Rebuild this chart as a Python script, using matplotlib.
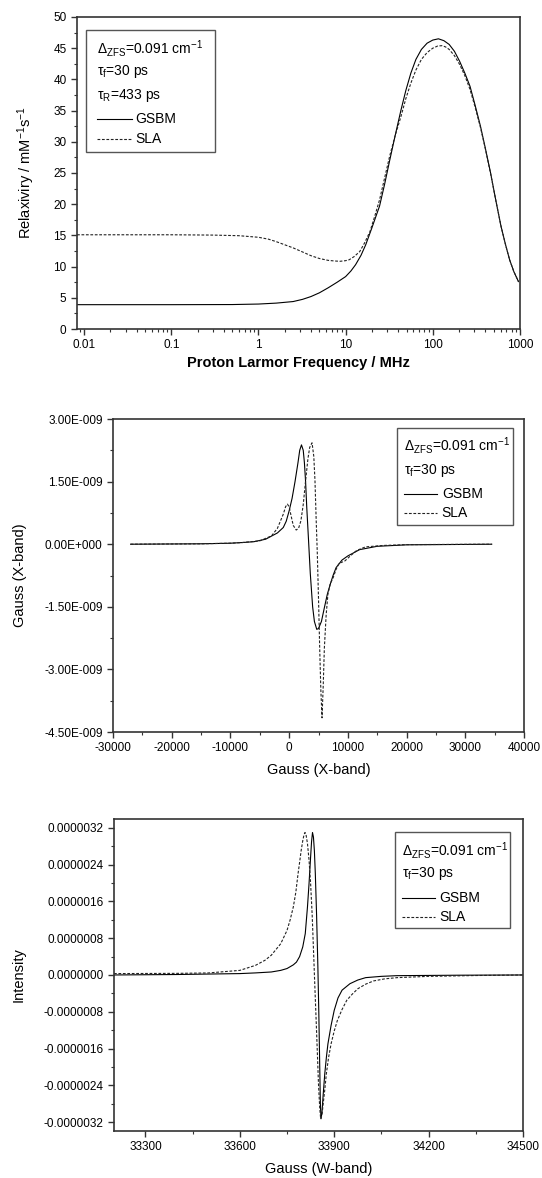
import matplotlib
matplotlib.use("Agg")
import matplotlib.pyplot as plt
from matplotlib.ticker import MultipleLocator, FixedLocator, FuncFormatter, LogLocator, NullFormatter
from matplotlib.patches import Rectangle

plt.rcParams['font.family'] = ['Liberation Sans', 'DejaVu Sans']
plt.rcParams['mathtext.default'] = 'regular'
plt.rcParams['axes.unicode_minus'] = False

# ---- NMRD profile (top) ----
freq_gsbm = [0.0083, 0.1, 0.5, 1.0, 1.6, 2.5, 3.2, 4.0, 5.0, 6.3, 8.0, 10, 11.5, 13, 15, 17, 20,
             24.5, 28, 32, 37, 43, 49, 56, 64, 74, 86, 100, 116, 134, 154, 177, 203, 233, 267,
             305, 352, 400, 460, 530, 605, 680, 760, 850, 960]
r1_gsbm = [3.9, 3.9, 3.92, 4.0, 4.15, 4.4, 4.75, 5.2, 5.8, 6.6, 7.5, 8.4, 9.3, 10.3, 11.8, 13.5, 16.2,
           19.7, 23.2, 27.0, 31.0, 35.0, 38.2, 41.0, 43.2, 44.8, 45.8, 46.3, 46.5, 46.2, 45.6, 44.5,
           42.9, 41.0, 38.9, 35.9, 32.5, 29.0, 25.0, 20.5, 16.5, 13.6, 11.1, 9.2, 7.6]
freq_sla = [0.0083, 0.1, 0.3, 0.6, 1.0, 1.3, 1.6, 2.0, 2.5, 3.2, 4.0, 5.0, 6.3, 7.5, 8.6, 10, 11,
            12.5, 14.5, 16.5, 19, 21.5, 24.5, 28, 32, 37, 43, 49, 56, 64, 74, 86, 100, 114, 128,
            140, 154, 177, 203, 233, 267, 305, 352, 400, 460, 530, 605, 680, 760, 850, 960]
r1_sla = [15.1, 15.1, 15.05, 14.95, 14.7, 14.4, 14.0, 13.5, 13.0, 12.35, 11.75, 11.3, 11.0, 10.9,
          10.85, 10.95, 11.1, 11.6, 12.4, 13.8, 15.6, 18.0, 20.7, 24.2, 27.7, 31.0, 34.0, 36.9,
          39.4, 41.5, 43.2, 44.3, 45.0, 45.35, 45.4, 45.2, 44.8, 43.8, 42.4, 40.6, 38.4, 35.6,
          32.3, 28.9, 24.9, 20.5, 16.5, 13.6, 11.1, 9.2, 7.6]

# ---- X-band EPR (middle), intensity in 1e-9 ----
bx_gsbm = [-27000, -15000, -10000, -8000, -6000, -4000, -2000, -1000, -500, 0, 500, 1000, 1500,
           1800, 2100, 2400, 2600, 2800, 3000, 3300, 3600, 4000, 4300, 4700, 5000, 5500, 6000,
           6500, 7000, 7500, 8000, 9000, 10000, 12000, 15000, 20000, 34500]
ix_gsbm = [0.0, 0.01, 0.024, 0.04, 0.06, 0.12, 0.27, 0.4, 0.55, 0.8, 1.1, 1.5, 1.95,
           2.25, 2.38, 2.25, 1.95, 1.5, 0.88, 0.1, -0.7, -1.5, -1.85, -2.04, -2.02, -1.85, -1.52,
           -1.2, -0.96, -0.74, -0.56, -0.38, -0.28, -0.13, -0.05, -0.015, 0.0]
bx_sla = [-27000, -15000, -10000, -8000, -5000, -3000, -2000, -1500, -1000, -600, -300, 0, 300,
          700, 1200, 1600, 2000, 2400, 2800, 3200, 3500, 3900, 4200, 4400, 4600, 4800, 5000,
          5200, 5400, 5600, 5800, 6000, 6300, 6600, 7000, 7500, 8000, 8500, 9500, 10500, 11500,
          13000, 16000, 20000, 34500]
ix_sla = [0.0, 0.01, 0.024, 0.04, 0.08, 0.2, 0.38, 0.55, 0.72, 0.9, 0.96, 0.9, 0.7,
          0.45, 0.34, 0.38, 0.56, 0.95, 1.52, 2.05, 2.32, 2.43, 2.1, 1.52, 0.6, -0.24, -1.3,
          -2.48, -3.5, -4.16, -3.4, -2.48, -1.7, -1.2, -0.95, -0.8, -0.6, -0.46, -0.4, -0.27, -0.15,
          -0.064, -0.03, -0.01, 0.0]

# ---- W-band EPR (bottom), intensity in 1e-6 ----
bw_gsbm = [33200, 33400, 33600, 33650, 33700, 33730, 33750, 33770, 33780, 33790, 33800, 33808,
           33815, 33820, 33825, 33828, 33831, 33834, 33837, 33840, 33844, 33848, 33851, 33854,
           33856, 33858, 33861, 33865, 33870, 33875, 33880, 33890, 33900, 33912, 33925, 33950,
           33975, 34000, 34050, 34100, 34300, 34500]
iw_gsbm = [0.0, 0.01, 0.03, 0.045, 0.065, 0.1, 0.14, 0.22, 0.28, 0.4, 0.61, 0.9,
           1.48, 1.99, 2.57, 2.9, 3.1, 3.0, 2.7, 2.2, 1.3, 0.2, -0.8, -2.0,
           -2.8, -3.13, -3.0, -2.6, -2.15, -1.8, -1.5, -1.1, -0.77, -0.5, -0.33, -0.19,
           -0.11, -0.058, -0.03, -0.015, -0.005, 0.0]
bw_sla = [33200, 33400, 33500, 33600, 33650, 33680, 33700, 33730, 33750, 33760, 33770, 33778,
          33785, 33790, 33795, 33800, 33804, 33807, 33810, 33815, 33820, 33825, 33830, 33835,
          33839, 33843, 33847, 33850, 33854, 33857, 33861, 33865, 33870, 33875, 33882, 33890,
          33900, 33910, 33925, 33940, 33957, 33975, 34000, 34025, 34060, 34100, 34200, 34350,
          34500]
iw_sla = [0.03, 0.035, 0.044, 0.1, 0.21, 0.32, 0.43, 0.68, 0.97, 1.2, 1.48, 1.8,
          2.2, 2.45, 2.71, 2.92, 3.05, 3.1, 3.07, 2.86, 2.5, 1.99, 1.3, 0.39,
          -0.35, -1.06, -1.8, -2.37, -2.9, -3.13, -3.05, -2.8, -2.5, -2.15, -1.8, -1.5,
          -1.22, -0.99, -0.75, -0.55, -0.42, -0.3, -0.2, -0.13, -0.085, -0.058, -0.03, -0.012,
          0.0]

legend_common = ['Δ$_{ZFS}$=0.091 cm$^{-1}$', 'τ$_f$=30 ps']

fig = plt.figure(figsize=(5.42, 11.78), dpi=100)

SOLID = dict(color='black', lw=0.8)
DASH = dict(color='#222222', lw=0.8, dashes=(2.5, 1.5))


def style(ax):
    for s in ax.spines.values():
        s.set_linewidth(1.2)
        s.set_color('#333333')
    ax.tick_params(which='both', direction='out', top=False, right=False, labelsize=8.5,
                   color='#333333')
    ax.tick_params(which='major', length=4, width=1)
    ax.tick_params(which='minor', length=2.5, width=0.8)


def legend_box(ax, box, rows, textx, liney, linex, textx2):
    x0, x1, y0, y1 = box
    ax.add_patch(Rectangle((x0, y0), x1 - x0, y1 - y0, transform=ax.transAxes,
                           fill=False, ec='#555555', lw=1.0, zorder=5))
    n = len(rows)
    for t, y in zip(rows, liney[:n]):
        ax.text(textx, y, t, transform=ax.transAxes, fontsize=10, va='center', ha='left')
    ys = liney[n:]
    ax.plot(linex, [ys[0], ys[0]], transform=ax.transAxes, **SOLID)
    ax.plot(linex, [ys[1], ys[1]], transform=ax.transAxes, **DASH)
    ax.text(textx2, ys[0], 'GSBM', transform=ax.transAxes, fontsize=10, va='center')
    ax.text(textx2, ys[1], 'SLA', transform=ax.transAxes, fontsize=10, va='center')


# top panel
ax1 = fig.add_axes([0.1421, 0.7207, 0.8173, 0.2649])
ax1.plot(freq_gsbm, r1_gsbm, **SOLID)
ax1.plot(freq_sla, r1_sla, **DASH)
ax1.set_xscale('log')
ax1.set_xlim(0.0083, 1000)
ax1.set_ylim(0, 50)
ax1.yaxis.set_major_locator(MultipleLocator(5))
ax1.yaxis.set_minor_locator(MultipleLocator(2.5))
ax1.xaxis.set_major_locator(FixedLocator([0.01, 0.1, 1, 10, 100, 1000]))
ax1.xaxis.set_minor_locator(LogLocator(base=10, subs=range(2, 10), numticks=20))
ax1.xaxis.set_minor_formatter(NullFormatter())
ax1.xaxis.set_major_formatter(FuncFormatter(lambda v, p: '%g' % v))
style(ax1)
ax1.set_ylabel('Relaxiviry / mM$^{-1}$s$^{-1}$', fontsize=10.5, labelpad=12)
ax1.set_xlabel('Proton Larmor Frequency / MHz', fontsize=10.5, fontweight='bold', labelpad=3)
legend_box(ax1, (0.021, 0.312, 0.566, 0.959),
           legend_common + ['τ$_R$=433 ps'], 0.045,
           [0.900, 0.826, 0.748, 0.674, 0.609], [0.045, 0.124], 0.131)

# middle panel
ax2 = fig.add_axes([0.2085, 0.3786, 0.7583, 0.2657])
ax2.plot(bx_gsbm, [v * 1e-9 for v in ix_gsbm], **SOLID)
ax2.plot(bx_sla, [v * 1e-9 for v in ix_sla], **DASH)
ax2.set_xlim(-30000, 40000)
ax2.set_ylim(-4.5e-9, 3e-9)
ax2.xaxis.set_major_locator(MultipleLocator(10000))
ax2.xaxis.set_minor_locator(MultipleLocator(5000))
ax2.yaxis.set_major_locator(MultipleLocator(1.5e-9))
ax2.yaxis.set_minor_locator(MultipleLocator(0.75e-9))


def efmt(v, p):
    if abs(v) < 1e-15:
        return '0.00E+000'
    m, e = ('%.2E' % v).split('E')
    return '%sE%s%03d' % (m, '-' if int(e) < 0 else '+', abs(int(e)))


ax2.yaxis.set_major_formatter(FuncFormatter(efmt))
ax2.xaxis.set_major_formatter(FuncFormatter(lambda v, p: '%d' % v))
style(ax2)
ax2.set_ylabel('Gauss (X-band)', fontsize=10.5, labelpad=12)
ax2.set_xlabel('Gauss (X-band)', fontsize=10.5, labelpad=6)
legend_box(ax2, (0.691, 0.973, 0.661, 0.971), legend_common, 0.708,
           [0.915, 0.837, 0.762, 0.699], [0.708, 0.788], 0.800)

# bottom panel
ax3 = fig.add_axes([0.2103, 0.0399, 0.7546, 0.2649])
ax3.plot(bw_gsbm, [v * 1e-6 for v in iw_gsbm], **SOLID)
ax3.plot(bw_sla, [v * 1e-6 for v in iw_sla], **DASH)
ax3.set_xlim(33200, 34500)
ax3.set_ylim(-3.395e-6, 3.395e-6)
ax3.xaxis.set_major_locator(MultipleLocator(300))
ax3.xaxis.set_minor_locator(MultipleLocator(150))
ax3.yaxis.set_major_locator(MultipleLocator(0.8e-6))
ax3.yaxis.set_minor_locator(MultipleLocator(0.4e-6))
ax3.yaxis.set_major_formatter(FuncFormatter(lambda v, p: '%.7f' % (0.0 if abs(v) < 1e-12 else v)))
ax3.xaxis.set_major_formatter(FuncFormatter(lambda v, p: '%d' % v))
style(ax3)
ax3.set_ylabel('Intensity', fontsize=10.5, labelpad=13)
ax3.set_xlabel('Gauss (W-band)', fontsize=10.5, labelpad=6)
legend_box(ax3, (0.686, 0.968, 0.649, 0.958), legend_common, 0.703,
           [0.900, 0.825, 0.748, 0.686], [0.703, 0.785], 0.796)

fig.savefig('out.png', dpi=100)
